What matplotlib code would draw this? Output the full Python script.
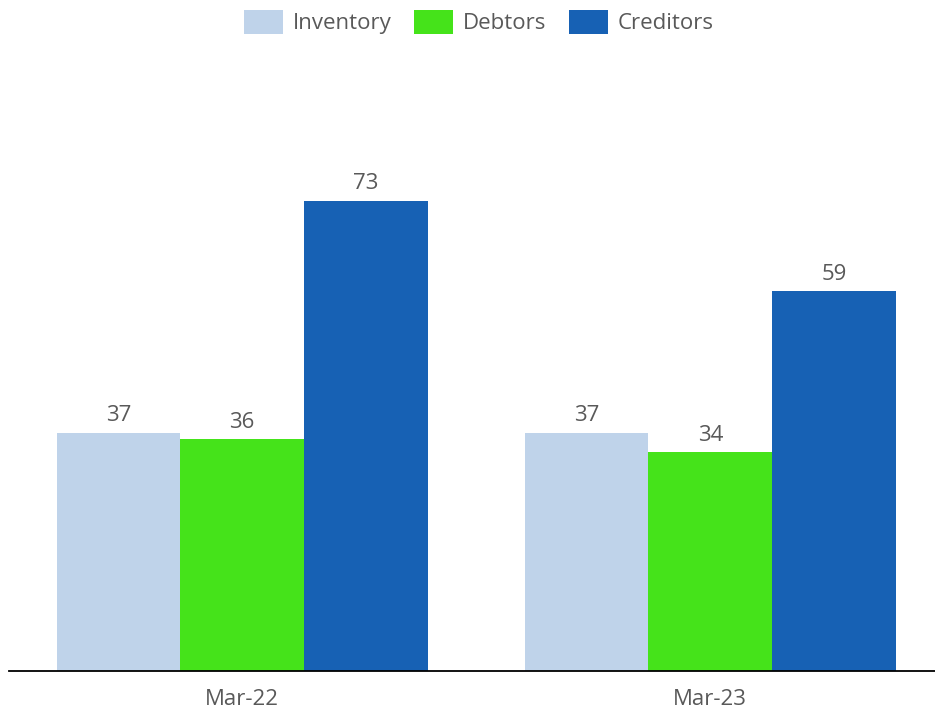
import numpy as np
import matplotlib.pyplot as plt
from matplotlib.patches import Patch

plt.rcParams['font.family'] = ['Open Sans', 'DejaVu Sans']

periods = ['Mar-22', 'Mar-23']
series = ['Inventory', 'Debtors', 'Creditors']
inventory = [37, 37]
debtors = [36, 34]
creditors = [73, 59]
colors = ['#BFD3EA', '#45E31A', '#1761B4']
txt = '#595959'

W, H = 935, 710
fig = plt.figure(figsize=(W / 100, H / 100), dpi=100)
# axes box in pixels: left 9, bottom 671 (from top), top 60
ax = fig.add_axes([9 / W, (H - 671) / H, 1 - 9 / W, (671 - 60) / H])

x = np.arange(len(periods))
bw = 0.264
for i, (vals, c) in enumerate(zip([inventory, debtors, creditors], colors)):
    pos = x + (i - 1) * bw
    bars = ax.bar(pos, vals, width=bw, color=c, edgecolor='none')
    for b, v in zip(bars, vals):
        ax.text(b.get_x() + b.get_width() / 2, v + 1.0, str(v), ha='center', va='bottom',
                fontsize=16, color=txt)

ax.set_xlim(-0.498, 1.48)
ax.set_ylim(0, 611 / 6.44)
ax.set_xticks(x)
ax.set_xticklabels(periods, fontsize=16, color=txt)
ax.tick_params(axis='x', length=0, pad=13)
ax.set_yticks([])
for s in ['top', 'right', 'left']:
    ax.spines[s].set_visible(False)
ax.spines['bottom'].set_color('black')
ax.spines['bottom'].set_linewidth(1.3)

handles = [Patch(facecolor=c, edgecolor='none', label=s) for s, c in zip(series, colors)]
leg = fig.legend(handles=handles, loc='center', bbox_to_anchor=(479 / W, 1 - 22 / H), ncol=3,
                 frameon=False, fontsize=16, handlelength=1.75, handleheight=1.3,
                 handletextpad=0.45, columnspacing=1.0)
for t in leg.get_texts():
    t.set_color(txt)

fig.savefig('out.png', dpi=100)
